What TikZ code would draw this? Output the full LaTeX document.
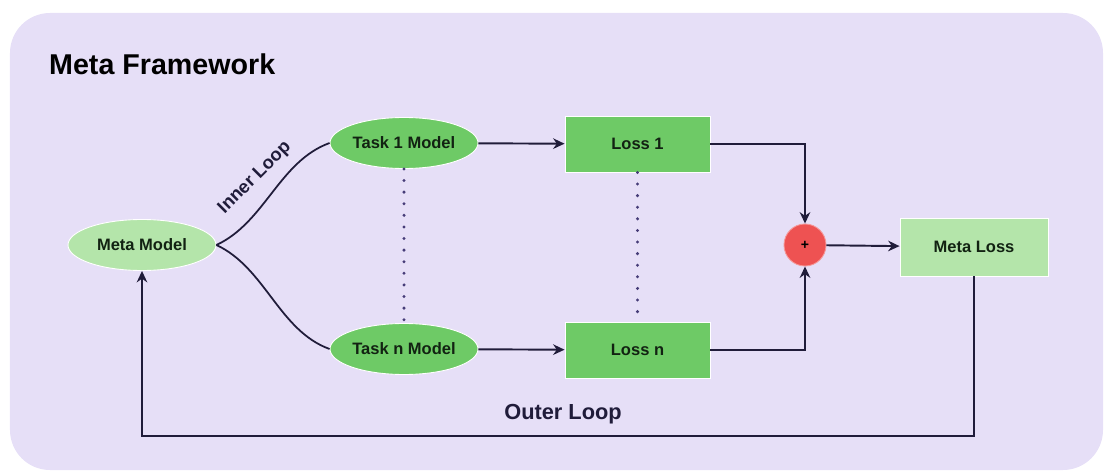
\documentclass[tikz,border=0pt]{standalone}
\usepackage{fontspec}
\setmainfont{Liberation Sans}
\usetikzlibrary{arrows.meta,shapes.geometric}

\definecolor{panelbg}{RGB}{230,223,247}
\definecolor{lightgreen}{RGB}{180,229,170}
\definecolor{midgreen}{RGB}{110,202,102}
\definecolor{sumred}{RGB}{238,82,82}
\definecolor{linenavy}{RGB}{32,28,58}
\definecolor{dotpurple}{RGB}{70,60,120}
\definecolor{labeltext}{RGB}{18,34,18}

\tikzset{
	model/.style={ellipse, draw=white, line width=0.5pt, minimum width=2.96cm, minimum height=1.02cm, inner sep=0pt, font=\bfseries\fontsize{9.4}{11}\selectfont, text=labeltext},
	lossbox/.style={rectangle, draw=white, line width=0.5pt, minimum width=2.9cm, minimum height=1.12cm, inner sep=0pt, font=\bfseries\fontsize{9.4}{11}\selectfont, text=labeltext},
	flow/.style={draw=linenavy, line width=1.1pt, -{Stealth[length=6.5pt,width=6pt]}},
	branch/.style={draw=linenavy, line width=1pt},
	dots/.style={draw=dotpurple, line width=1.9pt, line cap=round, dash pattern=on 0pt off 6.6pt}
}

\begin{document}
\begin{tikzpicture}
	\useasboundingbox (0,0) rectangle (22.16,9.46);
	\fill[panelbg, rounded corners=0.8cm] (0.2,0.06) rectangle (22.06,9.2);
	\node[anchor=west, font=\bfseries\fontsize{16.3}{19}\selectfont, text=black] (title) at (0.86,8.18) {Meta Framework};

	% models
	\node[model, fill=lightgreen] (meta) at (2.84,4.56) {Meta Model};
	\node[model, fill=midgreen] (task1) at (8.08,6.6) {Task 1 Model};
	\node[model, fill=midgreen] (taskn) at (8.08,2.48) {Task n Model};

	% losses
	\node[lossbox, fill=midgreen] (loss1) at (12.75,6.58) {Loss 1};
	\node[lossbox, fill=midgreen] (lossn) at (12.75,2.46) {Loss n};
	\node[circle, fill=sumred, draw=sumred!60!white, line width=0.5pt, minimum size=0.84cm, inner sep=0pt, font=\bfseries\fontsize{8}{9}\selectfont] (sum) at (16.1,4.56) {+};
	\node[lossbox, fill=lightgreen, minimum width=2.96cm, minimum height=1.16cm] (metaloss) at (19.48,4.52) {Meta Loss};

	% inner loop branches
	\draw[branch] (meta.east) to[out=25, in=200, looseness=0.9] (task1.west);
	\draw[branch] (meta.east) to[out=-25, in=160, looseness=0.9] (taskn.west);
	\node[rotate=45, font=\bfseries\fontsize{10.4}{12}\selectfont, text=linenavy] (inner) at (5.1,5.9) {Inner Loop};

	\draw[dots] (task1.south) -- (taskn.north);
	\draw[dots] (loss1.south) -- (lossn.north);

	\draw[flow] (task1) -- (loss1);
	\draw[flow] (taskn) -- (lossn);
	\draw[flow] (loss1.east) -| (sum.north);
	\draw[flow] (lossn.east) -| (sum.south);
	\draw[flow] (sum) -- (metaloss);

	% outer loop back to the meta model
	\coordinate (back) at (19.48,0.74);
	\draw[flow] (metaloss.south) -- (back) -| (meta.south);
	\node[font=\bfseries\fontsize{12.4}{14}\selectfont, text=linenavy] (outer) at (11.26,1.18) {Outer Loop};
\end{tikzpicture}
\end{document}
